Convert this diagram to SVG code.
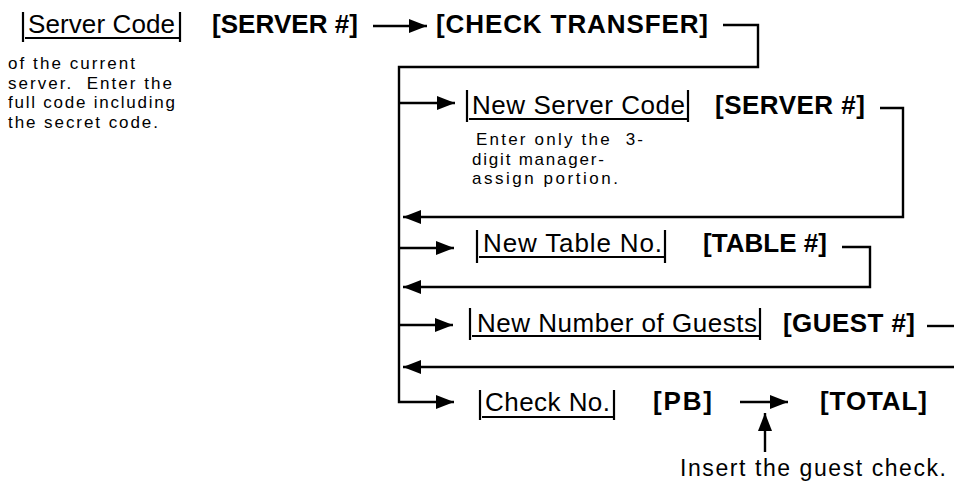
<svg xmlns="http://www.w3.org/2000/svg" width="954" height="486" viewBox="0 0 954 486">
<style>
.key{font-family:"Liberation Sans",Arial,sans-serif;font-size:26px;fill:#000}
.bold{font-family:"Liberation Sans",Arial,sans-serif;font-size:26px;font-weight:bold;fill:#000}
.note{font-family:"Liberation Sans",Arial,sans-serif;font-size:17px;fill:#000;white-space:pre}
.ins{font-family:"Liberation Sans",Arial,sans-serif;font-size:23px;fill:#000}
.bar{stroke:#000;stroke-width:2.2;fill:none}
.ul{stroke:#000;stroke-width:1.8;fill:none}
.conn{stroke:#000;stroke-width:2.4;fill:none}
</style>
<defs>
<marker id="ah" markerUnits="userSpaceOnUse" markerWidth="20" markerHeight="14" refX="18" refY="7" orient="auto">
<path d="M0,0 L18,7 L0,14 Z" fill="#000"/>
</marker>
</defs>
<rect width="954" height="486" fill="#fff"/>

<g id="server-code">
<line class="bar" x1="23" y1="12" x2="23" y2="42"/>
<text class="key" x="28" y="33" textLength="147" lengthAdjust="spacing">Server Code</text>
<line class="ul" x1="25" y1="38" x2="179" y2="38"/>
<line class="bar" x1="180" y1="12" x2="180" y2="42"/>
</g>
<g id="note-current">
<text class="note" x="8" y="69" textLength="127" lengthAdjust="spacing">of the current</text>
<text class="note" x="8" y="88.5" textLength="164" lengthAdjust="spacing">server.  Enter the</text>
<text class="note" x="8" y="108" textLength="167" lengthAdjust="spacing">full code including</text>
<text class="note" x="8" y="127.5" textLength="150" lengthAdjust="spacing">the secret code.</text>
</g>
<g id="server-num-1"><text class="bold" x="212" y="33" textLength="146" lengthAdjust="spacing">[SERVER #]</text></g>
<g id="check-transfer"><text class="bold" x="436" y="33" textLength="272" lengthAdjust="spacing">[CHECK TRANSFER]</text></g>

<g id="new-server-code">
<line class="bar" x1="467" y1="90" x2="467" y2="122"/>
<text class="key" x="472" y="114" textLength="213" lengthAdjust="spacing">New Server Code</text>
<line class="ul" x1="469" y1="119" x2="687" y2="119"/>
<line class="bar" x1="688" y1="90" x2="688" y2="122"/>
</g>
<g id="server-num-2"><text class="bold" x="715" y="114" textLength="150" lengthAdjust="spacing">[SERVER #]</text></g>
<g id="note-enter">
<text class="note" x="476" y="145" textLength="167" lengthAdjust="spacing">Enter only the  3-</text>
<text class="note" x="472" y="164.5" textLength="132" lengthAdjust="spacing">digit manager-</text>
<text class="note" x="472" y="184" textLength="146" lengthAdjust="spacing">assign portion.</text>
</g>

<g id="new-table">
<line class="bar" x1="477" y1="230" x2="477" y2="263"/>
<text class="key" x="483" y="252" textLength="179" lengthAdjust="spacing">New Table No.</text>
<line class="ul" x1="479" y1="257" x2="664" y2="257"/>
<line class="bar" x1="665" y1="230" x2="665" y2="263"/>
</g>
<g id="table-num"><text class="bold" x="703" y="252" textLength="124" lengthAdjust="spacing">[TABLE #]</text></g>

<g id="new-guests">
<line class="bar" x1="470" y1="308" x2="470" y2="340"/>
<text class="key" x="477" y="332" textLength="280" lengthAdjust="spacing">New Number of Guests</text>
<line class="ul" x1="472" y1="336" x2="759" y2="336"/>
<line class="bar" x1="760" y1="308" x2="760" y2="340"/>
</g>
<g id="guest-num"><text class="bold" x="783" y="332" textLength="132" lengthAdjust="spacing">[GUEST #]</text></g>

<g id="check-no">
<line class="bar" x1="480" y1="390" x2="480" y2="420"/>
<text class="key" x="485" y="411" textLength="125" lengthAdjust="spacing">Check No.</text>
<line class="ul" x1="482" y1="417" x2="613" y2="417"/>
<line class="bar" x1="614" y1="390" x2="614" y2="420"/>
</g>
<g id="pb"><text class="bold" x="653" y="410" textLength="59" lengthAdjust="spacing">[PB]</text></g>
<g id="total"><text class="bold" x="820" y="410" textLength="107" lengthAdjust="spacing">[TOTAL]</text></g>
<g id="insert-note"><text class="ins" x="680" y="476" textLength="266" lengthAdjust="spacing">Insert the guest check.</text></g>

<g id="connectors">
<path class="conn" d="M373,26 H427" marker-end="url(#ah)"/>
<path class="conn" d="M723,25 H758 V67 H399 V402 H454" marker-end="url(#ah)"/>
<path class="conn" d="M399,103 H455" marker-end="url(#ah)"/>
<path class="conn" d="M399,248 H454" marker-end="url(#ah)"/>
<path class="conn" d="M399,325 H453" marker-end="url(#ah)"/>
<path class="conn" d="M880,108 H903 V217 H403" marker-end="url(#ah)"/>
<path class="conn" d="M842,247 H870 V287 H403" marker-end="url(#ah)"/>
<path class="conn" d="M927,326 H954"/>
<path class="conn" d="M954,367 H403" marker-end="url(#ah)"/>
<path class="conn" d="M740,402 H788" marker-end="url(#ah)"/>
<path class="conn" d="M765,452 V413" marker-end="url(#ah)"/>
</g>
</svg>
